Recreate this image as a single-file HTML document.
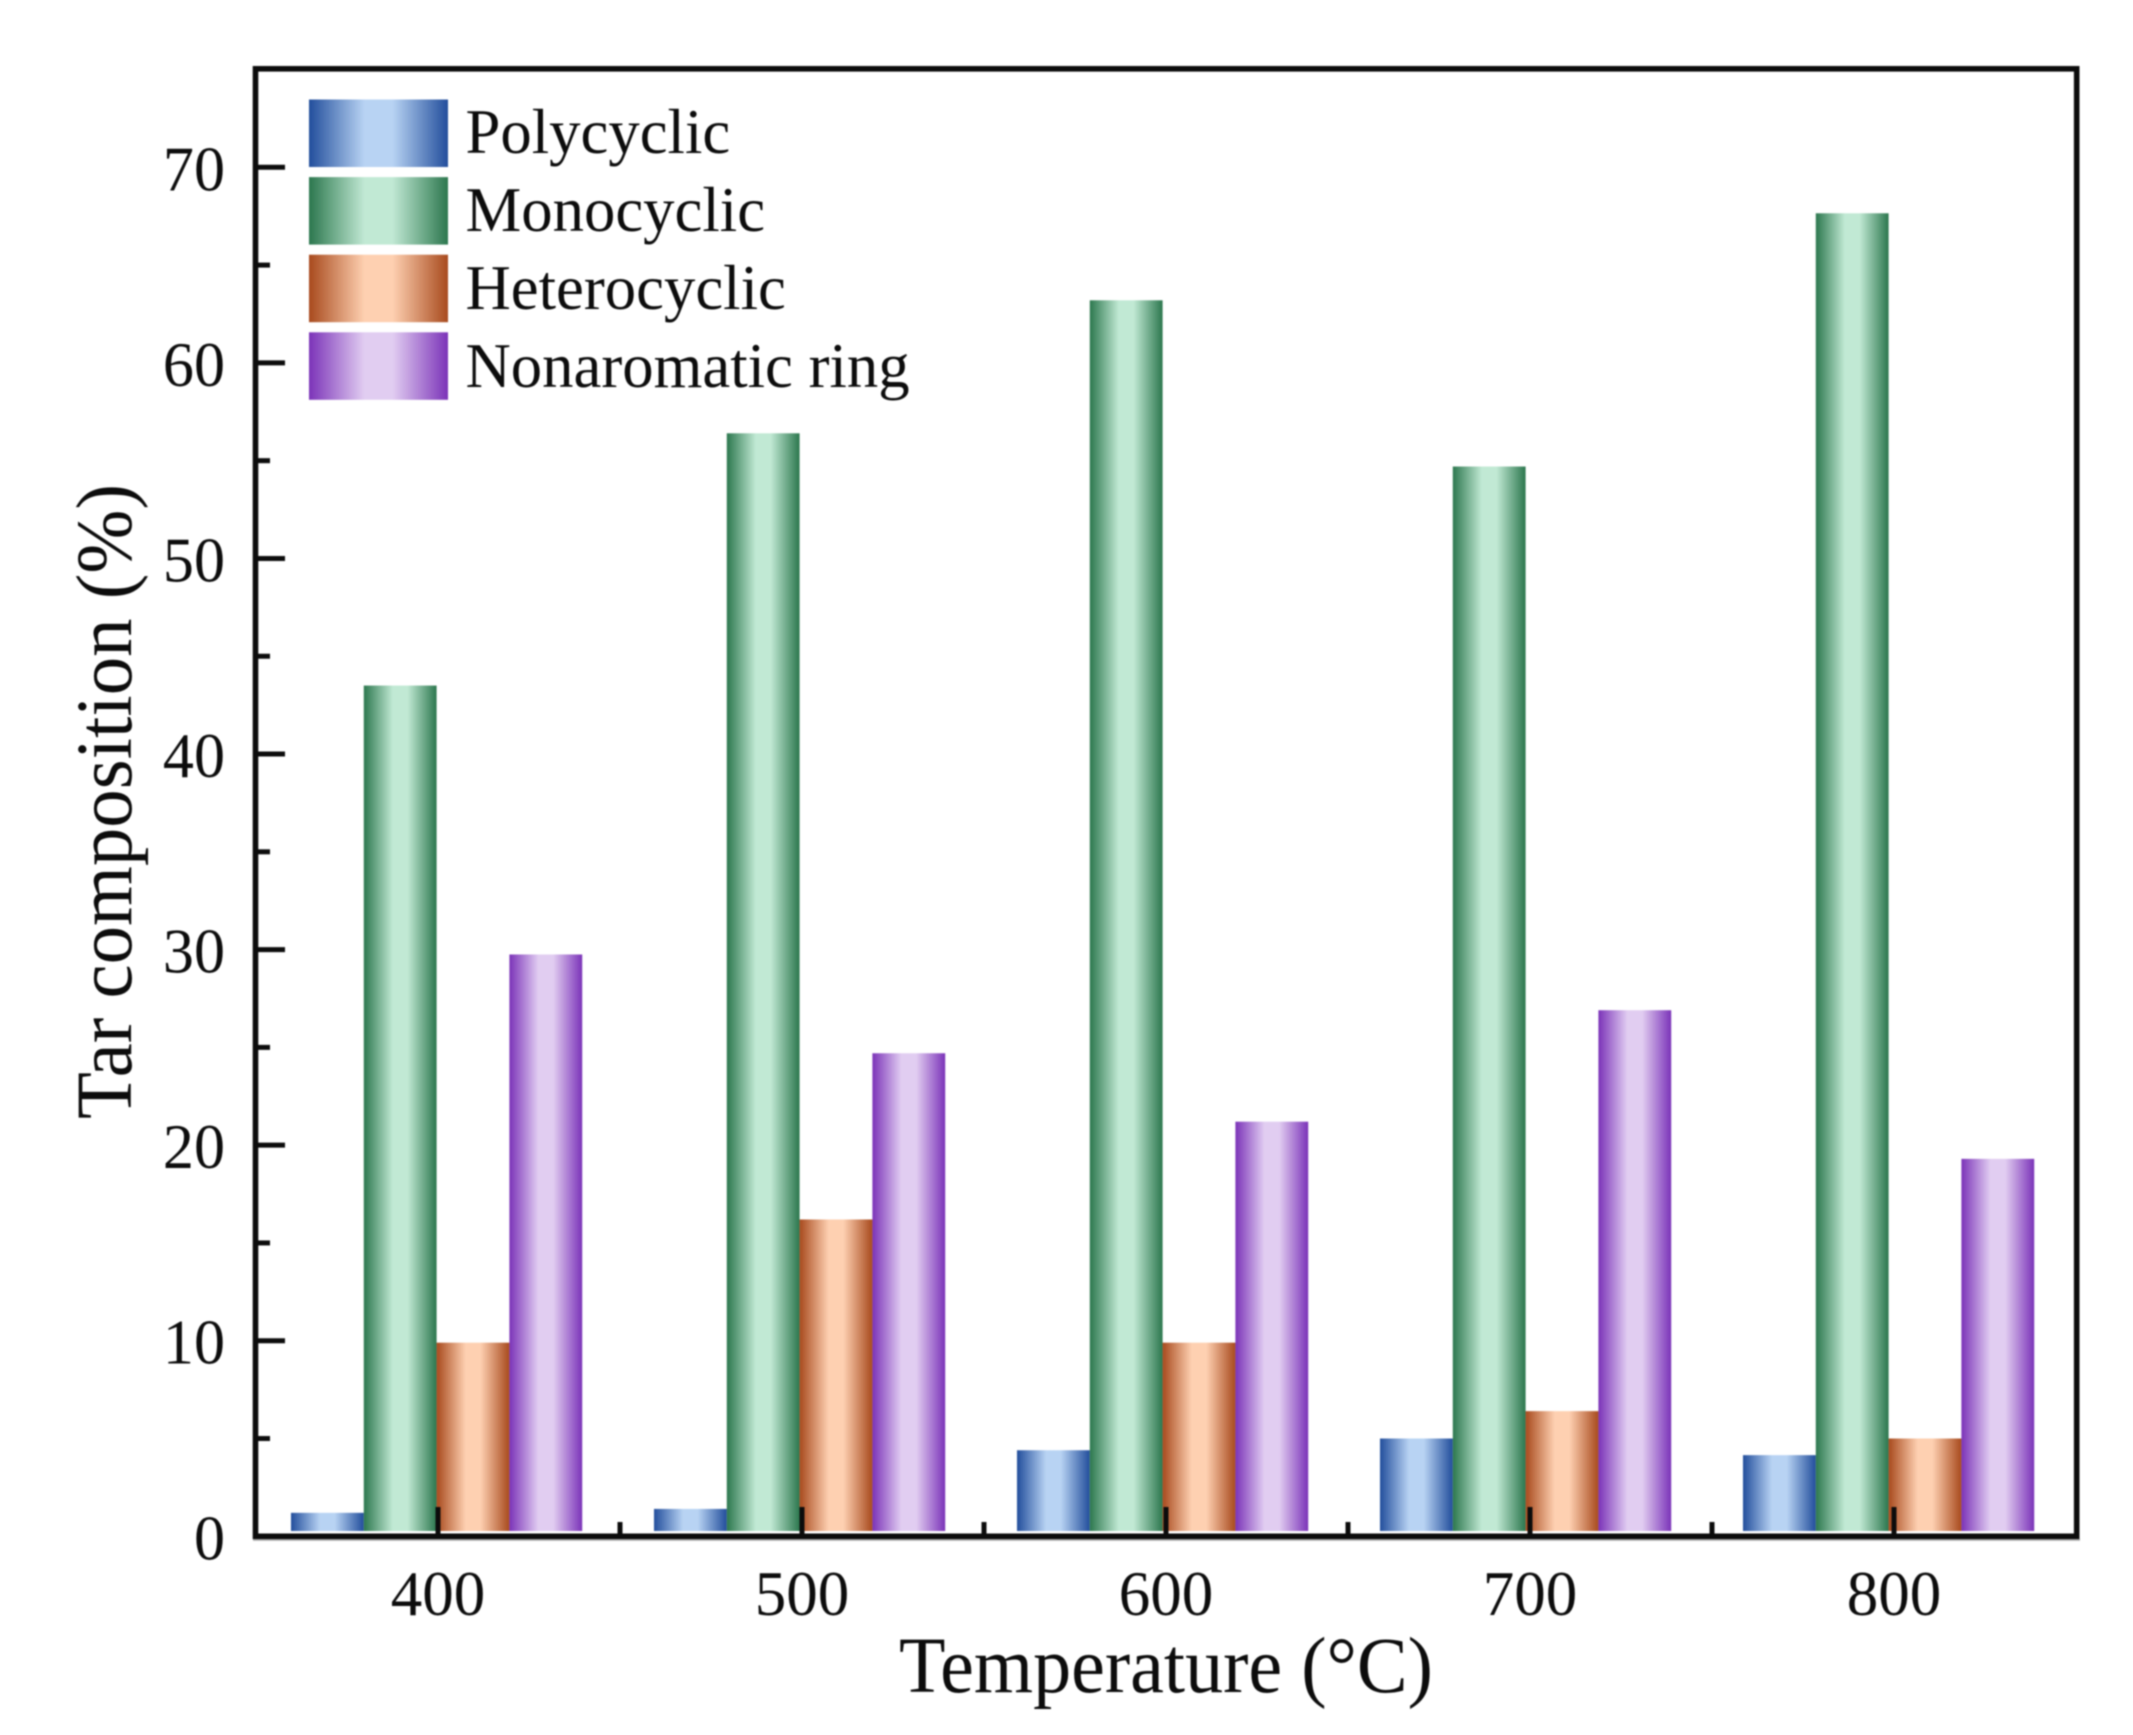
<!DOCTYPE html>
<html lang="en">
<head>
<meta charset="utf-8">
<title>Tar composition vs temperature</title>
<style>
html,body{margin:0;padding:0;background:#fff;width:2133px;height:1735px;overflow:hidden}
svg{display:block;filter:blur(0.75px)}
text{font-family:"Liberation Serif","Times New Roman",serif;fill:#0c0c0c}
</style>
</head>
<body>
<svg id="chart" xmlns="http://www.w3.org/2000/svg" width="2133" height="1735" viewBox="0 0 2133 1735">
  <defs id="defs"></defs>
  <rect width="2133" height="1735" fill="#fff"/>
  <g id="bars"></g>
  <line x1="253" x2="2080" y1="1539.8" y2="1539.8" stroke="#aaa" stroke-width="2"/>
  <g id="ticks"></g>
  <rect x="255.5" y="68.8" width="1821.2" height="1467.5" fill="none" stroke="#0c0c0c" stroke-width="5.6"/>
  <g id="legend"></g>
  <text x="899" y="1692" font-size="79" textLength="534" lengthAdjust="spacingAndGlyphs">Temperature (°C)</text>
  <text transform="translate(131,1119) rotate(-90)" font-size="79" textLength="635" lengthAdjust="spacingAndGlyphs">Tar composition (%)</text>
</svg>
<script>
const categories = [400, 500, 600, 700, 800];
const seriesNames = ['Polycyclic', 'Monocyclic', 'Heterocyclic', 'Nonaromatic ring'];
const polycyclic = [1.2, 1.4, 4.4, 5.0, 4.15];
const monocyclic = [43.5, 56.4, 63.2, 54.7, 67.65];
const heterocyclic = [9.9, 16.2, 9.9, 6.4, 5.0];
const nonaromatic = [29.75, 24.7, 21.2, 26.9, 19.3];
const yTicks = [0, 10, 20, 30, 40, 50, 60, 70];
const yMinorTicks = [5, 15, 25, 35, 45, 55, 65];
const xMinorTicks = [450, 550, 650, 750];

const seriesValues = [polycyclic, monocyclic, heterocyclic, nonaromatic];
const edgeColors = ['#224e9c', '#2c774e', '#a84a1d', '#7b33b8'];
const lightColors = ['#b8d3f3', '#c1e9d4', '#fed0b1', '#e1cdf1'];

const NS = 'http://www.w3.org/2000/svg';
const xScale = v => 438 + (v - 400) * 3.64;
const barGroupLeft = v => 291 + (v - 400) * 3.63;
const yScale = v => 1536.3 - v * 19.557;
const barWidth = 72.8;
const barBottom = 1531;

function make(tag, attrs, parent) {
  const el = document.createElementNS(NS, tag);
  for (const k in attrs) el.setAttribute(k, attrs[k]);
  parent.appendChild(el);
  return el;
}

const defs = document.getElementById('defs');
edgeColors.forEach((c, i) => {
  const g = make('linearGradient', { id: 'grad' + i, x1: 0, x2: 1, y1: 0, y2: 0 }, defs);
  make('stop', { offset: '0', 'stop-color': c }, g);
  make('stop', { offset: '0.4', 'stop-color': lightColors[i] }, g);
  make('stop', { offset: '0.6', 'stop-color': lightColors[i] }, g);
  make('stop', { offset: '1', 'stop-color': c }, g);
});

const barsGroup = document.getElementById('bars');
categories.forEach((cat, ci) => {
  seriesValues.forEach((vals, si) => {
    const x = barGroupLeft(cat) + si * barWidth;
    const y = yScale(vals[ci]);
    const bar = make('rect', { x: x, y: y, width: barWidth, height: barBottom - y, fill: 'url(#grad' + si + ')' }, barsGroup);
    
    
  });
});

const ticksGroup = document.getElementById('ticks');
yTicks.forEach(v => {
  const tick = make('line', { x1: 255, x2: 285, y1: yScale(v), y2: yScale(v), stroke: '#0c0c0c', 'stroke-width': 5 }, ticksGroup);
  
  
  const label = make('text', { transform: 'translate(225,' + (yScale(v) + 23) + ') scale(0.97,1)', 'font-size': 64, 'text-anchor': 'end' }, ticksGroup);
  label.textContent = v;
  
  
});
yMinorTicks.forEach(v => {
  const tick = make('line', { x1: 255, x2: 270, y1: yScale(v), y2: yScale(v), stroke: '#0c0c0c', 'stroke-width': 5 }, ticksGroup);
  
  
});
categories.forEach(c => {
  const tick = make('line', { x1: xScale(c), x2: xScale(c), y1: 1536, y2: 1507, stroke: '#0c0c0c', 'stroke-width': 5 }, ticksGroup);
  
  
  const label = make('text', { x: xScale(c), y: 1615, 'font-size': 63, 'text-anchor': 'middle' }, ticksGroup);
  label.textContent = c;
  
  
});
xMinorTicks.forEach(v => {
  const tick = make('line', { x1: xScale(v), x2: xScale(v), y1: 1536, y2: 1522, stroke: '#0c0c0c', 'stroke-width': 5 }, ticksGroup);
  
  
});

const legendGroup = document.getElementById('legend');
seriesNames.forEach((name, i) => {
  const swatch = make('rect', { x: 309, y: 99.5 + i * 77.6, width: 139, height: 67.5, fill: 'url(#grad' + i + ')' }, legendGroup);
  
  
  const label = make('text', { transform: 'translate(465.5,' + (153 + i * 78) + ') scale(0.98,1)', 'font-size': 64 }, legendGroup);
  label.textContent = name;
  
  
});
</script>
</body>
</html>
